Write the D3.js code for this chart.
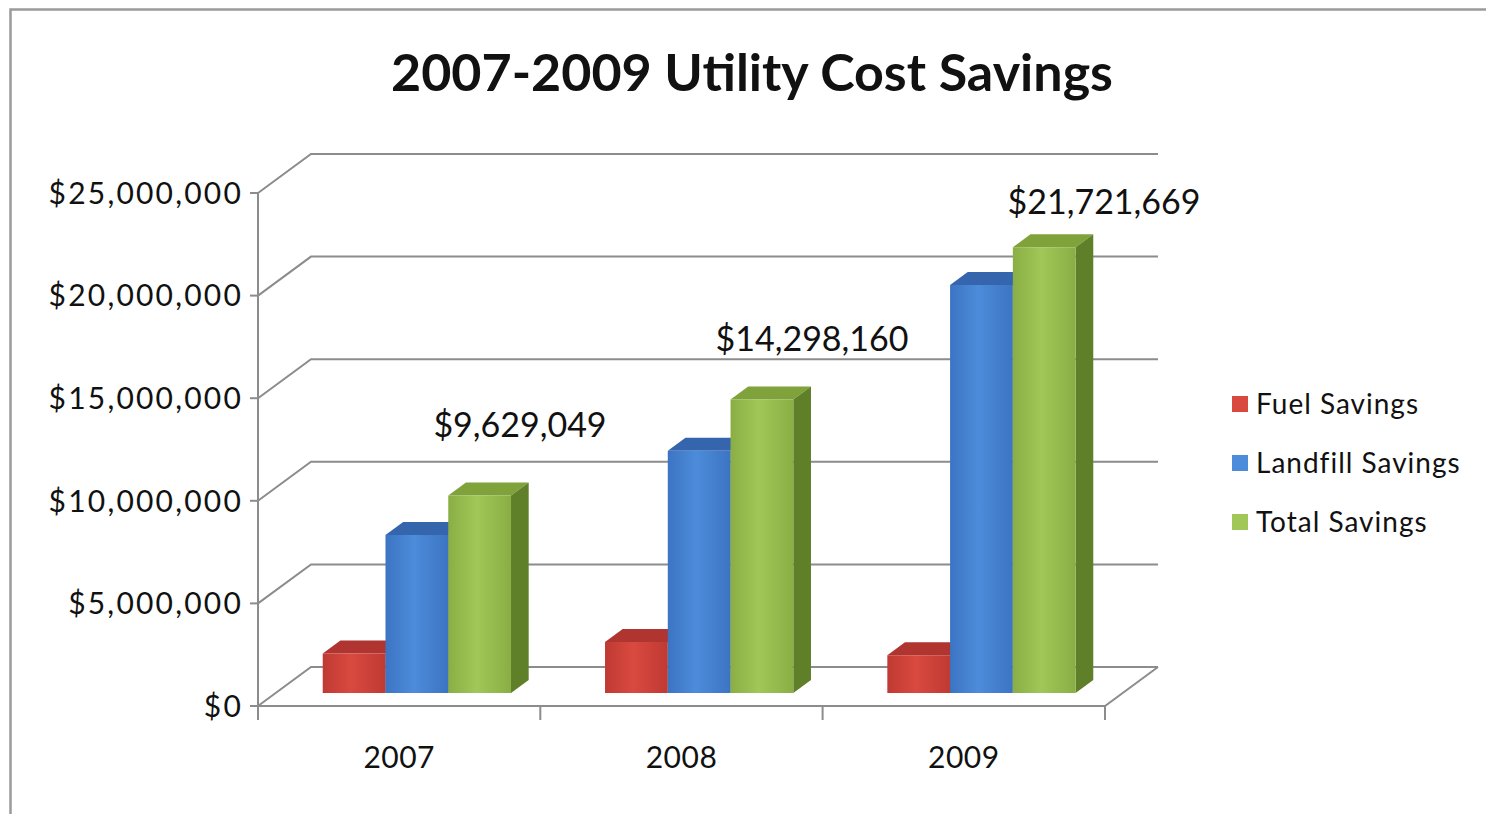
<!DOCTYPE html>
<html>
<head>
<meta charset="utf-8">
<script src="https://cdn.jsdelivr.net/npm/d3@7"></script>
<style>
  body { margin: 0; background: #fff; }
  text { font-family: Lato, "Open Sans", sans-serif; fill: #111; }
</style>
</head>
<body>
<svg id="chart" width="1486" height="814"></svg>
<script>
// chart data
var YEARS = ["2007", "2008", "2009"];
var SERIES = ["Fuel Savings", "Landfill Savings", "Total Savings"];
var FUEL = [1930000, 2480000, 1840000];
var LANDFILL = [7700000, 11800000, 19880000];
var TOTAL = [9629049, 14298160, 21721669];
var TOTAL_LABELS = ["$9,629,049", "$14,298,160", "$21,721,669"];
var Y_TICKS = [0, 5000000, 10000000, 15000000, 20000000, 25000000];

// colours: [front edge, front centre, top, side]
var COLORS = [
  ["#bf3a33", "#d9493f", "#b03430", "#8e2824"],
  ["#3c74c2", "#4c8cda", "#3566ad", "#2b5592"],
  ["#8aae44", "#a0c757", "#7fa23a", "#5f7f29"]
];

var svg = d3.select("#chart");

// outer frame
svg.append("rect")
  .attr("x", 10.5).attr("y", 9.5)
  .attr("width", 1500).attr("height", 830)
  .attr("fill", "#fff")
  .attr("stroke", "#9a9a9a").attr("stroke-width", 2.5);

// projection: front plane scales, plus the depth vector of the floor
var y = d3.scaleLinear().domain([0, 25000000]).range([706, 193]);
var x = d3.scaleBand().domain(YEARS).range([258, 1105])
  .paddingInner(0.333).paddingOuter(0.1667);
var xs = d3.scaleBand().domain(SERIES).range([0, x.bandwidth()]);
var DX = 53, DY = -39;

function pt(px, v, t) { return [px + t * DX, y(v) + t * DY]; }

// gridlines on the back wall and the left wall
var grid = svg.append("g").attr("stroke", "#8c8c8c").attr("stroke-width", 2).attr("fill", "none");
Y_TICKS.forEach(function(v) {
  var a = pt(258, v, 0), b = pt(258, v, 1), c = pt(1105, v, 1);
  grid.append("path").attr("d", "M" + a + "L" + b + "L" + c);
});
// floor
var f0 = pt(258, 0, 0), f1 = pt(1105, 0, 0), f2 = pt(1105, 0, 1);
grid.append("path").attr("d", "M" + f0 + "L" + f1 + "L" + f2);

// front value axis
var axis = svg.append("g").attr("stroke", "#8c8c8c").attr("stroke-width", 2);
axis.append("line").attr("x1", 258).attr("x2", 258)
  .attr("y1", y(0) + 1).attr("y2", y(25000000));
axis.selectAll("line.ytick").data(Y_TICKS).enter().append("line")
  .attr("class", "ytick")
  .attr("x1", 250).attr("x2", 258)
  .attr("y1", d => y(d)).attr("y2", d => y(d));
// category ticks
var catEdges = YEARS.map(d => x(d) - x.step() * 0.1667).concat([1105]);
axis.selectAll("line.xtick").data(catEdges).enter().append("line")
  .attr("class", "xtick")
  .attr("x1", d => d).attr("x2", d => d)
  .attr("y1", y(0)).attr("y2", y(0) + 14);

svg.selectAll("text.ylab").data(Y_TICKS).enter().append("text")
  .attr("class", "ylab")
  .attr("x", 243).attr("y", d => y(d))
  .attr("dy", "0.36em")
  .attr("text-anchor", "end")
  .style("font-size", "30px")
  .style("letter-spacing", "2.2px")
  .text(d => d3.format("$,")(d));

svg.selectAll("text.xlab").data(YEARS).enter().append("text")
  .attr("class", "xlab")
  .attr("x", d => x(d) + x.bandwidth() / 2)
  .attr("y", 768)
  .attr("text-anchor", "middle")
  .style("font-size", "30px")
  .style("letter-spacing", "0.5px")
  .text(d => d);

// gradients for the front faces
var defs = svg.append("defs");
COLORS.forEach(function(c, i) {
  var g = defs.append("linearGradient").attr("id", "grad" + i)
    .attr("x1", "0").attr("x2", "1").attr("y1", "0").attr("y2", "0");
  g.append("stop").attr("offset", "0").attr("stop-color", c[0]);
  g.append("stop").attr("offset", "0.45").attr("stop-color", c[1]);
  g.append("stop").attr("offset", "1").attr("stop-color", c[0]);
});

// bars
var values = [FUEL, LANDFILL, TOTAL];
var T0 = 1 / 3, T1 = 2 / 3;
YEARS.forEach(function(yr, j) {
  SERIES.forEach(function(s, i) {
    var v = values[i][j];
    var xl = x(yr) + xs(s), xr = xl + xs.bandwidth();
    var a = pt(xl, 0, T0), b = pt(xr, 0, T0), c = pt(xr, v, T0), d = pt(xl, v, T0);
    var c2 = pt(xr, v, T1), d2 = pt(xl, v, T1), b2 = pt(xr, 0, T1);
    var g = svg.append("g");
    g.append("path").attr("d", "M" + d + "L" + d2 + "L" + c2 + "L" + c + "Z")
      .attr("fill", COLORS[i][2]);
    g.append("path").attr("d", "M" + b + "L" + b2 + "L" + c2 + "L" + c + "Z")
      .attr("fill", COLORS[i][3]);
    g.append("path").attr("d", "M" + a + "L" + b + "L" + c + "L" + d + "Z")
      .attr("fill", "url(#grad" + i + ")");
  });
});

// total labels
var xLab = d3.scalePoint().domain(YEARS).range([520, 1104]);
var yLab = d3.scaleLinear().domain([0, 25000000]).range([615, 154]);
svg.selectAll("text.vlab").data(YEARS).enter().append("text")
  .attr("class", "vlab")
  .attr("x", d => xLab(d))
  .attr("y", (d, j) => yLab(TOTAL[j]))
  .attr("text-anchor", "middle")
  .style("font-size", "34px")
  .text((d, j) => TOTAL_LABELS[j]);

// title
svg.append("text")
  .attr("x", 752).attr("y", 91)
  .attr("text-anchor", "middle")
  .style("font-size", "52px").style("font-weight", "bold")
  .text("2007-2009 Utility Cost Savings");

// legend
var leg = svg.selectAll("g.leg").data(SERIES).enter().append("g")
  .attr("class", "leg")
  .attr("transform", (d, i) => "translate(1232," + (404 + i * 59) + ")");
leg.append("rect").attr("x", 0).attr("y", -8).attr("width", 16).attr("height", 16)
  .attr("fill", (d, i) => COLORS[i][1]);
leg.append("text").attr("x", 24).attr("dy", "0.36em")
  .style("font-size", "28px")
  .style("letter-spacing", "1px")
  .text(d => d);
</script>
</body>
</html>
